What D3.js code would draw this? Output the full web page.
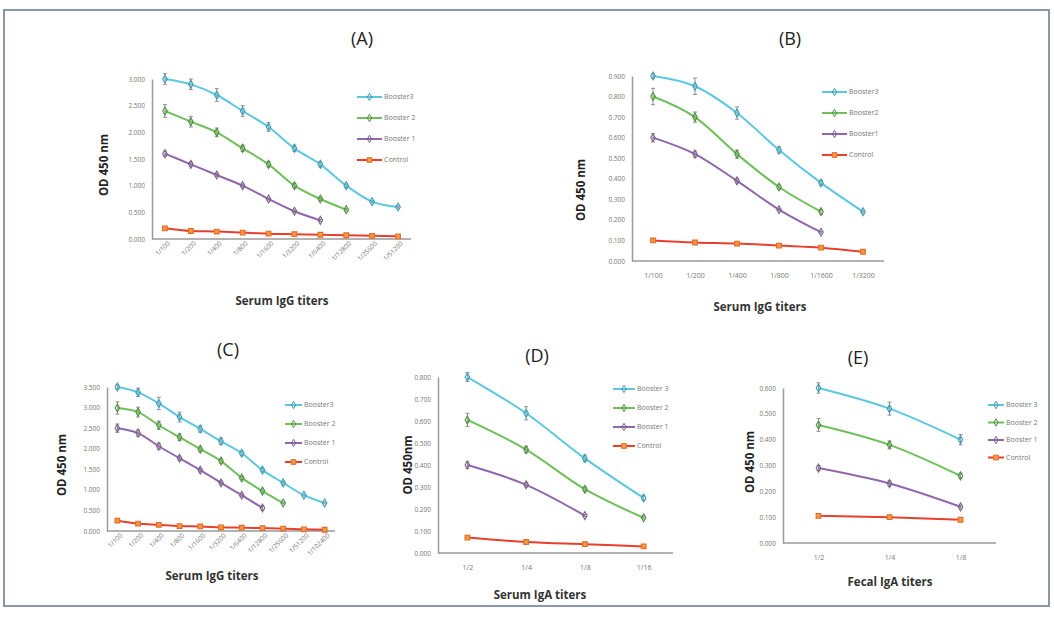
<!DOCTYPE html>
<html>
<head>
<meta charset="utf-8">
<script src="https://cdn.jsdelivr.net/npm/d3@7"></script>
<style>
body { margin: 0; background: #fff; }
text { font-family: "Open Sans", "Liberation Sans", sans-serif; }
</style>
</head>
<body>
<svg width="1054" height="617"></svg>
<script>
// categories
const catsA = ["1/100","1/200","1/400","1/800","1/1600","1/3200","1/6400","1/12800","1/25600","1/51200"]
const catsB = ["1/100","1/200","1/400","1/800","1/1600","1/3200"]
const catsC = ["1/100","1/200","1/400","1/800","1/1600","1/3200","1/6400","1/12800","1/25600","1/51200","1/102400"]
const catsD = ["1/2","1/4","1/8","1/16"]
const catsE = ["1/2","1/4","1/8"]

// (A) serum IgG
const aB3 = [3.0, 2.9, 2.7, 2.4, 2.1, 1.7, 1.4, 1.0, 0.7, 0.6]
const aB2 = [2.4, 2.2, 2.0, 1.7, 1.4, 1.0, 0.75, 0.55]
const aB1 = [1.6, 1.4, 1.2, 1.0, 0.75, 0.52, 0.35]
const aC  = [0.2, 0.15, 0.14, 0.12, 0.1, 0.09, 0.08, 0.07, 0.06, 0.05]
const aB3err = [0.1, 0.1, 0.12, 0.1, 0.08, 0.06, 0.05, 0.03, 0.02, 0.02]
const aB2err = [0.12, 0.1, 0.08, 0.06, 0.05, 0.04, 0.03, 0.02]
const aB1err = [0.05, 0.04, 0.03, 0.03, 0.02, 0.02, 0.02]

// (B) serum IgG
const bB3 = [0.90, 0.85, 0.72, 0.54, 0.38, 0.24]
const bB2 = [0.80, 0.70, 0.52, 0.36, 0.24]
const bB1 = [0.60, 0.52, 0.39, 0.25, 0.14]
const bC  = [0.10, 0.09, 0.085, 0.075, 0.065, 0.045]
const bB3err = [0.01, 0.04, 0.03, 0.015, 0.01, 0.005]
const bB2err = [0.04, 0.025, 0.02, 0.01, 0.01]
const bB1err = [0.02, 0.015, 0.01, 0.005, 0.005]

// (C) serum IgG
const cB3 = [3.5, 3.37, 3.1, 2.77, 2.48, 2.18, 1.89, 1.48, 1.17, 0.87, 0.68]
const cB2 = [2.99, 2.89, 2.57, 2.28, 1.99, 1.7, 1.29, 0.97, 0.68]
const cB1 = [2.5, 2.38, 2.06, 1.77, 1.48, 1.17, 0.87, 0.56]
const cC  = [0.25, 0.18, 0.15, 0.12, 0.11, 0.09, 0.08, 0.07, 0.06, 0.04, 0.03]
const cB3err = [0.05, 0.1, 0.15, 0.12, 0.08, 0.08, 0.05, 0.04, 0.03, 0.02, 0.02]
const cB2err = [0.15, 0.12, 0.1, 0.08, 0.06, 0.05, 0.04, 0.03, 0.02]
const cB1err = [0.1, 0.08, 0.08, 0.05, 0.04, 0.04, 0.03, 0.05]

// (D) serum IgA
const dB3 = [0.80, 0.635, 0.43, 0.25]
const dB2 = [0.605, 0.47, 0.29, 0.16]
const dB1 = [0.40, 0.31, 0.17]
const dC  = [0.07, 0.05, 0.04, 0.03]
const dB3err = [0.02, 0.03, 0.015, 0.01]
const dB2err = [0.03, 0.015, 0.01, 0.005]
const dB1err = [0.015, 0.01, 0.005]

// (E) fecal IgA
const eB3 = [0.60, 0.52, 0.40]
const eB2 = [0.457, 0.38, 0.26]
const eB1 = [0.29, 0.23, 0.14]
const eC  = [0.105, 0.10, 0.09]
const eB3err = [0.02, 0.025, 0.02]
const eB2err = [0.025, 0.015, 0.01]
const eB1err = [0.01, 0.01, 0.005]

const colors = {
  b3: {line: "#5cc8e0", mark: "#3f9ab3"},
  b2: {line: "#6fbf5a", mark: "#4e8f42"},
  b1: {line: "#9067ad", mark: "#7a6585"},
  c:  {line: "#e8402c", mark: "#f39a3c"}
}

const svg = d3.select("svg")

// outer frame
svg.append("rect")
  .attr("x", 4).attr("y", 10).attr("width", 1045).attr("height", 596)
  .attr("fill", "none").attr("stroke", "#8c98a4").attr("stroke-width", 2)

function drawPanel(p){
  const g = svg.append("g")
  const x = d3.scalePoint().domain(p.cats).range([p.left, p.right]).padding(0.5)
  const y = d3.scaleLinear().domain([0, p.yMax]).range([p.bottom, p.top])

  // title
  g.append("text").attr("x", p.titleX).attr("y", p.titleY)
    .attr("text-anchor", "middle").attr("font-size", 18).attr("fill", "#222")
    .text(p.title)

  // axes
  const ya = g.append("g").attr("transform", "translate(" + p.left + ",0)")
    .call(d3.axisLeft(y).tickValues(d3.range(0, p.yMax + 1e-9, p.step)).tickFormat(d3.format(".3f")).tickSize(0).tickPadding(7))
  ya.select(".domain").attr("stroke", "#9a9a9a").attr("stroke-width", 1.5)
  ya.selectAll("text").attr("font-size", 6.5).attr("fill", "#777")

  const xa = g.append("g").attr("transform", "translate(0," + p.bottom + ")")
    .call(d3.axisBottom(x).tickSize(0).tickPadding(p.rotate ? 5 : 12))
  xa.select(".domain").attr("stroke", "#9a9a9a").attr("stroke-width", 1.5)
    .attr("d", "M" + p.left + ",0H" + p.right)
  xa.selectAll("text").attr("font-size", p.rotate ? 6.5 : 7).attr("fill", "#777")
  if (p.rotate) {
    xa.selectAll("text")
      .attr("text-anchor", "end")
      .attr("dy", "0.3em")
      .attr("transform", "rotate(-45)")
  }

  // axis titles
  g.append("text")
    .attr("transform", "translate(" + p.yLabelX + "," + p.yLabelY + ") rotate(-90)")
    .attr("text-anchor", "middle").attr("font-size", 11.5).attr("font-weight", "bold").attr("fill", "#222")
    .text(p.yLabel)
  g.append("text").attr("x", p.xLabelX).attr("y", p.xLabelY)
    .attr("text-anchor", "middle").attr("font-size", 11.5).attr("font-weight", "bold").attr("fill", "#333")
    .text(p.xLabel)

  const line = d3.line().x((d, i) => x(p.cats[i])).y(d => y(d)).curve(d3.curveMonotoneX)

  p.series.forEach(s => {
    const c = colors[s.key]
    const sg = g.append("g")
    if (s.err) {
      s.vals.forEach((v, i) => {
        const e = s.err[i]
        const cx = x(p.cats[i])
        sg.append("path")
          .attr("d", "M" + cx + "," + y(v - e) + "V" + y(v + e) +
                "M" + (cx - 2) + "," + y(v - e) + "H" + (cx + 2) +
                "M" + (cx - 2) + "," + y(v + e) + "H" + (cx + 2))
          .attr("stroke", "#777").attr("stroke-width", 0.8).attr("fill", "none")
      })
    }
    sg.append("path").datum(s.vals).attr("d", line)
      .attr("fill", "none").attr("stroke", c.line).attr("stroke-width", 2)
    sg.selectAll(".m").data(s.vals).join("path")
      .attr("transform", (d, i) => "translate(" + x(p.cats[i]) + "," + y(d) + ")")
      .attr("d", d3.symbol().type(s.key === "c" ? d3.symbolSquare : d3.symbolDiamond).size(s.key === "c" ? 22 : 18))
      .attr("fill", s.key === "c" ? c.mark : "none")
      .attr("stroke", s.key === "c" ? "#e36a2a" : c.mark).attr("stroke-width", 1.1)
  })

  // legend
  p.series.forEach((s, i) => {
    const c = colors[s.key]
    const ly = p.legY + i * p.legStep
    g.append("line").attr("x1", p.legX).attr("x2", p.legX + p.legLen).attr("y1", ly).attr("y2", ly)
      .attr("stroke", c.line).attr("stroke-width", 2)
    g.append("path").attr("transform", "translate(" + (p.legX + p.legLen / 2) + "," + ly + ")")
      .attr("d", d3.symbol().type(s.key === "c" ? d3.symbolSquare : d3.symbolDiamond).size(s.key === "c" ? 22 : 16))
      .attr("fill", s.key === "c" ? c.mark : "none")
      .attr("stroke", s.key === "c" ? "#e36a2a" : c.mark).attr("stroke-width", 1)
    g.append("text").attr("x", p.legX + p.legLen + 2).attr("y", ly).attr("dy", "0.35em")
      .attr("font-size", 7).attr("fill", "#777").text(s.name)
  })
}

drawPanel({
  title: "(A)", titleX: 362, titleY: 45,
  cats: catsA, left: 152, right: 411, top: 79, bottom: 239, yMax: 3.0, step: 0.5, rotate: true,
  yLabel: "OD 450 nm", yLabelX: 108, yLabelY: 165, xLabel: "Serum IgG titers", xLabelX: 282, xLabelY: 305,
  legX: 357, legY: 97, legStep: 21, legLen: 25,
  series: [
    {key: "b3", name: "Booster3", vals: aB3, err: aB3err},
    {key: "b2", name: "Booster 2", vals: aB2, err: aB2err},
    {key: "b1", name: "Booster 1", vals: aB1, err: aB1err},
    {key: "c", name: "Control", vals: aC}
  ]
})

drawPanel({
  title: "(B)", titleX: 790, titleY: 45,
  cats: catsB, left: 632, right: 884, top: 76, bottom: 261, yMax: 0.9, step: 0.1, rotate: false,
  yLabel: "OD 450 nm", yLabelX: 585, yLabelY: 190, xLabel: "Serum IgG titers", xLabelX: 760, xLabelY: 311,
  legX: 822, legY: 92, legStep: 21, legLen: 25,
  series: [
    {key: "b3", name: "Booster3", vals: bB3, err: bB3err},
    {key: "b2", name: "Booster2", vals: bB2, err: bB2err},
    {key: "b1", name: "Booster1", vals: bB1, err: bB1err},
    {key: "c", name: "Control", vals: bC}
  ]
})

drawPanel({
  title: "(C)", titleX: 228, titleY: 356,
  cats: catsC, left: 107, right: 335, top: 387, bottom: 531, yMax: 3.5, step: 0.5, rotate: true,
  yLabel: "OD 450 nm", yLabelX: 66, yLabelY: 465, xLabel: "Serum IgG titers", xLabelX: 212, xLabelY: 580,
  legX: 285, legY: 405, legStep: 19, legLen: 17,
  series: [
    {key: "b3", name: "Booster3", vals: cB3, err: cB3err},
    {key: "b2", name: "Booster 2", vals: cB2, err: cB2err},
    {key: "b1", name: "Booster 1", vals: cB1, err: cB1err},
    {key: "c", name: "Control", vals: cC}
  ]
})

drawPanel({
  title: "(D)", titleX: 537, titleY: 362,
  cats: catsD, left: 438, right: 673, top: 377, bottom: 553, yMax: 0.8, step: 0.1, rotate: false,
  yLabel: "OD 450nm", yLabelX: 412, yLabelY: 465, xLabel: "Serum IgA titers", xLabelX: 540, xLabelY: 599,
  legX: 613, legY: 389, legStep: 19, legLen: 22,
  series: [
    {key: "b3", name: "Booster 3", vals: dB3, err: dB3err},
    {key: "b2", name: " Booster  2", vals: dB2, err: dB2err},
    {key: "b1", name: "Booster 1", vals: dB1, err: dB1err},
    {key: "c", name: "Control", vals: dC}
  ]
})

drawPanel({
  title: "(E)", titleX: 858, titleY: 364,
  cats: catsE, left: 783, right: 996, top: 388, bottom: 543, yMax: 0.6, step: 0.1, rotate: false,
  yLabel: "OD 450 nm", yLabelX: 754, yLabelY: 462, xLabel: "Fecal IgA titers", xLabelX: 890, xLabelY: 586,
  legX: 988, legY: 405, legStep: 17.5, legLen: 16,
  series: [
    {key: "b3", name: "Booster 3", vals: eB3, err: eB3err},
    {key: "b2", name: " Booster  2", vals: eB2, err: eB2err},
    {key: "b1", name: "Booster 1", vals: eB1, err: eB1err},
    {key: "c", name: "Control", vals: eC}
  ]
})
</script>
</body>
</html>
